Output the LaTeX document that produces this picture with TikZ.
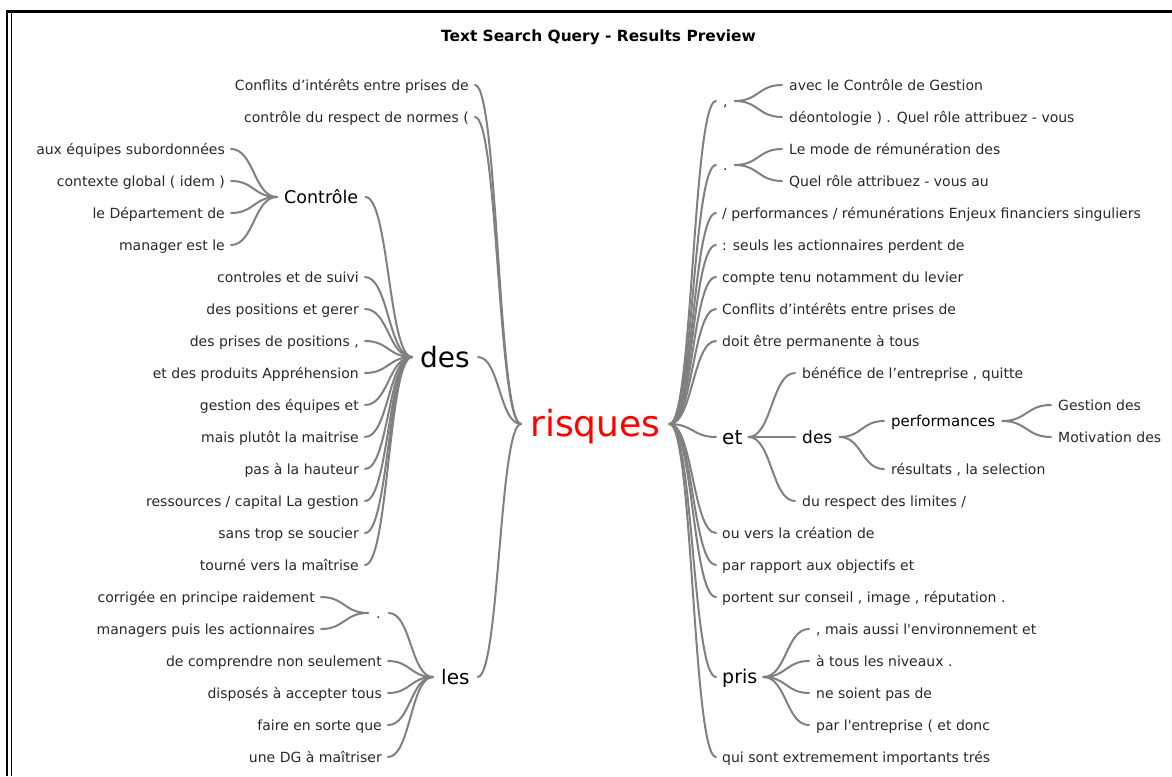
\documentclass[tikz,border=0pt]{standalone}
\usepackage{fontspec}
\setmainfont{DejaVu Sans}
\usetikzlibrary{calc}
\definecolor{lnk}{RGB}{128,128,128}
\definecolor{txt}{RGB}{40,40,40}
\definecolor{hot}{RGB}{255,0,0}
\tikzset{
  leaf/.style={font=\fontsize{14}{16}\selectfont, text=txt, inner xsep=6pt, inner ysep=0pt, text height=12.6pt, text depth=2.1pt},
  pnct/.style={leaf, inner xsep=7pt},
  word/.style={font=\fontsize{#1}{#1}\selectfont, text=black, inner xsep=7pt, inner ysep=0pt, text height={#1*0.86pt}, text depth={#1*0.14pt}},
  link/.style={draw=lnk, line width=2pt, line cap=round, to path={let \p1=(\tikztostart), \p2=(\tikztotarget) in .. controls ({(\x1+\x2)/2},\y1) and ({(\x1+\x2)/2},\y2) .. (\tikztotarget)}},
  frame/.style={draw=black}
}
\begin{document}
\begin{tikzpicture}[x=1pt,y=-1pt]
\useasboundingbox (0,0) rectangle (1172,776);
% frame
\draw[frame, line width=2.6pt] (7,776) -- (7,11.3) -- (1172,11.3);
\draw[frame, line width=1.2pt] (11.8,776) -- (11.8,12);
% title
\node[font=\fontsize{15.4}{17}\selectfont\bfseries, text=black, inner sep=0pt] (title) at (598.5,37) {Text Search Query - Results Preview};
% centre
\node[word=36, text=hot, anchor=west, inner xsep=9pt] (risques) at (521,424) {risques};
% ---------- left side ----------
\node[leaf, anchor=east] (l1) at (475,85) {Conflits d’intérêts entre prises de};
\node[leaf, anchor=east] (l2) at (475,117) {contrôle du respect de normes (};
\node[word=28, anchor=west, inner xsep=8pt] (ldes) at (412,357) {des};
\node[word=17.5, anchor=west] (ctrl) at (277,197) {Contrôle};
\node[leaf, anchor=east] (c1) at (231,149) {aux équipes subordonnées};
\node[leaf, anchor=east] (c2) at (231,181) {contexte global ( idem )};
\node[leaf, anchor=east] (c3) at (231,213) {le Département de};
\node[leaf, anchor=east] (c4) at (231,245) {manager est le};
\node[leaf, anchor=east] (d1) at (365,277) {controles et de suivi};
\node[leaf, anchor=east] (d2) at (365,309) {des positions et gerer};
\node[leaf, anchor=east] (d3) at (365,341) {des prises de positions ,};
\node[leaf, anchor=east] (d4) at (365,373) {et des produits Appréhension};
\node[leaf, anchor=east] (d5) at (365,405) {gestion des équipes et};
\node[leaf, anchor=east] (d6) at (365,437) {mais plutôt la maitrise};
\node[leaf, anchor=east] (d7) at (365,469) {pas à la hauteur};
\node[leaf, anchor=east] (d8) at (365,501) {ressources / capital La gestion};
\node[leaf, anchor=east] (d9) at (365,533) {sans trop se soucier};
\node[leaf, anchor=east] (d10) at (365,565) {tourné vers la maîtrise};
\node[word=20, anchor=west, inner xsep=8pt] (les) at (433,677) {les};
\node[pnct, anchor=west, inner xsep=8pt] (ldot) at (368,613) {.};
\node[leaf, anchor=east] (p1) at (321,597) {corrigée en principe raidement};
\node[leaf, anchor=east] (p2) at (321,629) {managers puis les actionnaires};
\node[leaf, anchor=east] (s1) at (388,661) {de comprendre non seulement};
\node[leaf, anchor=east] (s2) at (388,693) {disposés à accepter tous};
\node[leaf, anchor=east] (s3) at (388,725) {faire en sorte que};
\node[leaf, anchor=east] (s4) at (388,757) {une DG à maîtriser};
% ---------- right side ----------
\node[pnct, anchor=west] (rcom) at (716,101) {,};
\node[leaf, anchor=west, inner xsep=7pt] (a1) at (782,85) {avec le Contrôle de Gestion};
\node[leaf, anchor=west, inner xsep=7pt] (a2) at (782,117) {déontologie ) . Quel rôle attribuez - vous};
\node[pnct, anchor=west] (rdot) at (716,165) {.};
\node[leaf, anchor=west, inner xsep=7pt] (b1) at (782,149) {Le mode de rémunération des};
\node[leaf, anchor=west, inner xsep=7pt] (b2) at (782,181) {Quel rôle attribuez - vous au};
\node[leaf, anchor=west] (r5) at (716,213) {/ performances / rémunérations Enjeux financiers singuliers};
\node[leaf, anchor=west] (r6) at (716,245) {: seuls les actionnaires perdent de};
\node[leaf, anchor=west] (r7) at (716,277) {compte tenu notamment du levier};
\node[leaf, anchor=west] (r8) at (716,309) {Conflits d’intérêts entre prises de};
\node[leaf, anchor=west] (r9) at (716,341) {doit être permanente à tous};
\node[word=20, anchor=west, inner xsep=6pt] (et) at (716,437) {et};
\node[leaf, anchor=west, inner xsep=7pt] (e1) at (795,373) {bénéfice de l’entreprise , quitte};
\node[word=17, anchor=west] (rdes) at (795,437) {des};
\node[leaf, anchor=west, inner xsep=7pt] (e3) at (795,501) {du respect des limites /};
\node[word=15, anchor=west] (perf) at (884,421) {performances};
\node[leaf, anchor=west, inner xsep=7pt] (f2) at (884,469) {résultats , la selection};
\node[leaf, anchor=west, inner xsep=7pt] (g1) at (1051,405) {Gestion des};
\node[leaf, anchor=west, inner xsep=7pt] (g2) at (1051,437) {Motivation des};
\node[leaf, anchor=west] (r11) at (716,533) {ou vers la création de};
\node[leaf, anchor=west] (r12) at (716,565) {par rapport aux objectifs et};
\node[leaf, anchor=west] (r13) at (716,597) {portent sur conseil , image , réputation .};
\node[word=19, anchor=west, inner xsep=6pt] (pris) at (716,677) {pris};
\node[leaf, anchor=west, inner xsep=7pt] (h1) at (809,629) {, mais aussi l\textquotesingle environnement et};
\node[leaf, anchor=west, inner xsep=7pt] (h2) at (809,661) {à tous les niveaux .};
\node[leaf, anchor=west, inner xsep=7pt] (h3) at (809,693) {ne soient pas de};
\node[leaf, anchor=west, inner xsep=7pt] (h4) at (809,725) {par l\textquotesingle entreprise ( et donc};
\node[leaf, anchor=west] (r15) at (716,757) {qui sont extremement importants trés};
% ---------- connectors ----------
\foreach \k in {l1,l2,ldes,les} \draw[link] (risques.west) to (\k.east);
\foreach \k in {ctrl,d1,d2,d3,d4,d5,d6,d7,d8,d9,d10} \draw[link] (ldes.west) to (\k.east);
\foreach \k in {c1,c2,c3,c4} \draw[link] (ctrl.west) to (\k.east);
\foreach \k in {ldot,s1,s2,s3,s4} \draw[link] (les.west) to (\k.east);
\foreach \k in {p1,p2} \draw[link] (ldot.west) to (\k.east);
\foreach \k in {rcom,rdot,r5,r6,r7,r8,r9,et,r11,r12,r13,pris,r15} \draw[link] (risques.east) to (\k.west);
\foreach \k in {a1,a2} \draw[link] (rcom.east) to (\k.west);
\foreach \k in {b1,b2} \draw[link] (rdot.east) to (\k.west);
\foreach \k in {e1,rdes,e3} \draw[link] (et.east) to (\k.west);
\foreach \k in {perf,f2} \draw[link] (rdes.east) to (\k.west);
\foreach \k in {g1,g2} \draw[link] (perf.east) to (\k.west);
\foreach \k in {h1,h2,h3,h4} \draw[link] (pris.east) to (\k.west);
\end{tikzpicture}
\end{document}
